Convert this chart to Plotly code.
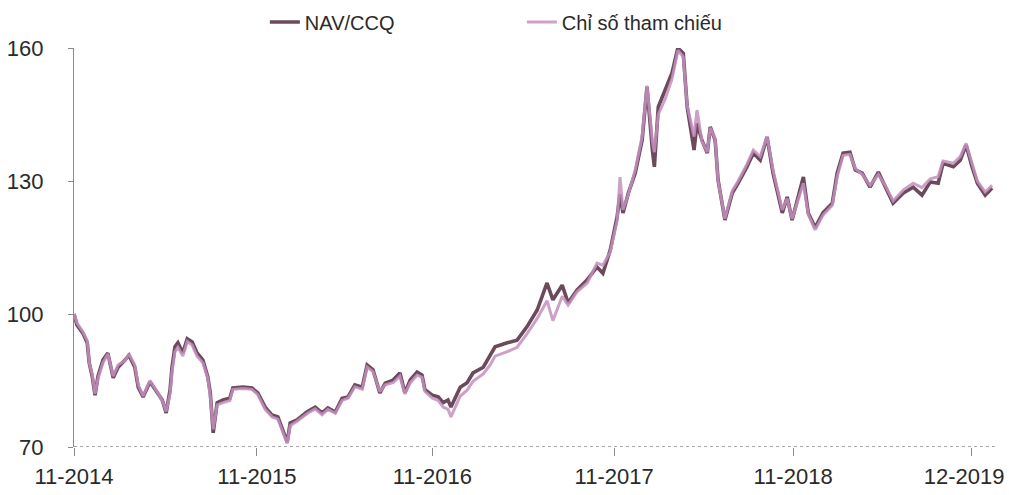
import plotly.graph_objects as go

dates = [
    "2014-11-01", "2014-11-07", "2014-11-19", "2014-11-28", "2014-12-02", "2014-12-08",
    "2014-12-14", "2014-12-20", "2014-12-30", "2015-01-09", "2015-01-20", "2015-01-30",
    "2015-02-13", "2015-02-21", "2015-03-05", "2015-03-12", "2015-03-22", "2015-04-05",
    "2015-04-19", "2015-04-30", "2015-05-08", "2015-05-16", "2015-05-20", "2015-05-26",
    "2015-06-01", "2015-06-11", "2015-06-20", "2015-06-30", "2015-07-10", "2015-07-22",
    "2015-08-01", "2015-08-06", "2015-08-12", "2015-08-20", "2015-09-01", "2015-09-15",
    "2015-09-21", "2015-10-12", "2015-10-30", "2015-11-11", "2015-11-26", "2015-12-10",
    "2015-12-22", "2016-01-01", "2016-01-10", "2016-01-16", "2016-01-30", "2016-02-19",
    "2016-03-07", "2016-03-21", "2016-04-02", "2016-04-17", "2016-05-01", "2016-05-13",
    "2016-05-27", "2016-06-11", "2016-06-21", "2016-07-03", "2016-07-17", "2016-07-28",
    "2016-08-13", "2016-08-27", "2016-09-06", "2016-09-17", "2016-10-01", "2016-10-11",
    "2016-10-17", "2016-11-01", "2016-11-13", "2016-11-23", "2016-12-03", "2016-12-09",
    "2016-12-28", "2017-01-11", "2017-01-23", "2017-02-13", "2017-02-27", "2017-03-09",
    "2017-04-03", "2017-04-23", "2017-05-13", "2017-06-03", "2017-06-23", "2017-07-05",
    "2017-07-24", "2017-08-05", "2017-08-23", "2017-09-13", "2017-10-03", "2017-10-15",
    "2017-10-30", "2017-11-13", "2017-11-19", "2017-11-25", "2017-12-06", "2017-12-20",
    "2018-01-03", "2018-01-13", "2018-01-24", "2018-01-28", "2018-02-05", "2018-02-19",
    "2018-03-05", "2018-03-17", "2018-03-28", "2018-04-05", "2018-04-15", "2018-04-19",
    "2018-04-25", "2018-05-05", "2018-05-16", "2018-05-22", "2018-06-01", "2018-06-07",
    "2018-06-21", "2018-07-06", "2018-07-18", "2018-08-05", "2018-08-18", "2018-09-01",
    "2018-09-15", "2018-09-27", "2018-10-16", "2018-10-26", "2018-11-05", "2018-11-15",
    "2018-11-28", "2018-12-08", "2018-12-22", "2019-01-07", "2019-01-26", "2019-02-05",
    "2019-02-17", "2019-03-03", "2019-03-14", "2019-03-28", "2019-04-13", "2019-04-30",
    "2019-05-14", "2019-05-30", "2019-06-20", "2019-07-10", "2019-07-28", "2019-08-14",
    "2019-08-30", "2019-09-09", "2019-09-30", "2019-10-14", "2019-10-26", "2019-11-07",
    "2019-11-18", "2019-12-04", "2019-12-18",
]

nav_ccq = [
    100, 97.5, 95.7, 93.5, 89, 86, 81.7, 86, 89.6, 91.2, 85.6, 88,
    89.6, 90.7, 88, 83.5, 81.3, 84.7, 82.4, 80.6, 77.7, 82.9, 88, 92.6,
    93.5, 91.2, 94.4, 93.7, 91.2, 89.6, 85.8, 82.2, 73.2, 80, 80.6, 81,
    83.3, 83.5, 83.3, 82.2, 79, 77.2, 76.8, 73.8, 71.1, 75.4, 76.1, 77.9,
    79, 77.7, 78.8, 77.9, 81, 81.3, 84, 83.5, 88.5, 87.4, 82.2, 84.4,
    85.1, 86.7, 82.2, 85.1, 86.9, 86.2, 82.9, 81.7, 81.3, 80, 80.6, 79,
    83.5, 84.5, 86.7, 88, 90.5, 92.6, 93.5, 94.1, 97.1, 100.9, 107, 103.2,
    106.5, 102.5, 105.4, 107.7, 110.6, 109.2, 114.4, 121.9, 127, 122.8, 127.3, 131.8,
    139.2, 151.2, 137, 133.2, 146.7, 150.5, 154.4, 160, 158.8, 146.7, 139.9, 137,
    143, 139.2, 136.3, 142.2, 139.2, 130.2, 121.2, 127.3, 129.5, 133.2, 136.3, 134.7,
    139.9, 131.8, 122.8, 126.4, 121.2, 125.7, 130.9, 122.8, 119.5, 122.8, 125, 131.8,
    136.3, 136.5, 132.5, 131.8, 128.6, 132, 128.6, 125, 127.3, 128.6, 126.8, 129.8,
    129.5, 134, 133.2, 134.7, 138.1, 133.2, 129.5, 126.8, 128.4,
]

chi_so_tham_chieu = [
    100, 98, 96, 94, 89, 86.5, 82, 85.5, 89, 91, 86, 88.5,
    89.5, 91, 88.5, 84, 81.5, 85, 82.5, 80.5, 78, 82, 87, 91.5,
    92.5, 90.5, 93.8, 93, 90.5, 89, 85.5, 81.5, 74, 79.5, 80, 80.5,
    83, 83.2, 83, 81.8, 78.5, 76.8, 76.3, 73.2, 70.8, 74.8, 75.8, 77.5,
    78.6, 77.3, 78.5, 77.6, 80.5, 81, 83.6, 83, 88, 87, 82.5, 84,
    84.5, 86, 82, 84.5, 86.2, 85.7, 82.5, 81, 80.5, 79, 78.5, 76.8,
    81.5, 82.8, 84.8, 86.5, 88.5, 90.5, 91.5, 92.5, 95.5, 99, 103, 98.5,
    104, 102, 105, 107, 111.5, 111, 114, 121, 130.9, 123.5, 127, 132.5,
    140, 151.5, 139, 136.5, 145, 148.5, 153, 159.5, 158, 147, 142, 140,
    146, 139, 136.5, 142, 139.5, 130, 121.5, 127.8, 130, 133.8, 137, 135.5,
    140, 132.5, 123.5, 126, 121.5, 125, 129.5, 122.5, 119, 122.3, 124.5, 131,
    135.8, 136, 132.8, 131.5, 129, 131.5, 129, 125.5, 128, 129.5, 128.5, 130.5,
    131, 134.5, 134, 135.5, 138.5, 134, 130, 127.5, 129,
]

tick_dates = ["2014-11-01", "2015-11-09", "2016-11-01", "2017-11-07", "2018-11-07", "2019-11-07"]
label_dates = ["2014-11-01", "2015-11-09", "2016-11-01", "2017-11-07", "2018-11-07", "2019-10-22"]
tick_labels = ["11-2014", "11-2015", "11-2016", "11-2017", "11-2018", "12-2019"]
y_ticks = [70, 100, 130, 160]
y_range = [70, 160]
x_range = ["2014-11-01", "2019-12-26"]

FONT = "Liberation Sans Narrow, Arial Narrow, Liberation Sans, Arial, sans-serif"

fig = go.Figure()
fig.add_trace(go.Scatter(
    x=dates, y=nav_ccq, mode="lines", name="NAV/CCQ",
    line=dict(color="#6b4a5c", width=3.6),
))
fig.add_trace(go.Scatter(
    x=dates, y=chi_so_tham_chieu, mode="lines", name="Chỉ số tham chiếu",
    line=dict(color="#c590be", width=3), opacity=0.85,
))

fig.add_shape(type="line", xref="paper", yref="y", x0=0, x1=1, y0=y_range[0], y1=y_range[0],
              line=dict(color="#8a8a8a", width=1.3, dash="dot"), layer="below")

fig.update_layout(
    width=1009, height=495,
    margin=dict(l=74, r=13, t=48, b=48, autoexpand=False),
    paper_bgcolor="white", plot_bgcolor="white",
    font=dict(family=FONT, color="#2a2a2a", size=22),
    showlegend=True,
    legend=dict(
        orientation="h", x=0.207, xanchor="left", y=1.065, yanchor="middle",
        font=dict(size=20, family=FONT), entrywidth=212, entrywidthmode="pixels",
        bgcolor="rgba(0,0,0,0)", tracegroupgap=0,
    ),
    xaxis=dict(
        type="date", range=x_range, showgrid=False, zeroline=False, showline=False,
        tickmode="array", tickvals=label_dates, ticktext=tick_labels, ticks="",
        tickfont=dict(size=22, family=FONT, color="#2a2a2a"),
        ticklabelstandoff=14, ticklabeloverflow="allow",
        minor=dict(tickmode="array", tickvals=tick_dates, ticks="outside",
                   ticklen=8, tickcolor="#8a8a8a", tickwidth=1, showgrid=False),
    ),
    yaxis=dict(
        range=y_range, showgrid=False, zeroline=False, showline=True,
        linecolor="#8a8a8a", linewidth=1.3,
        tickmode="array", tickvals=y_ticks,
        ticks="outside", ticklen=5, tickcolor="#8a8a8a",
        tickfont=dict(size=22, family=FONT, color="#2a2a2a"),
        ticklabelstandoff=20, ticklabeloverflow="allow",
    ),
)

fig.write_html(
    "out.html",
    config={"displayModeBar": False},
    post_script="document.body.style.margin='0px';document.body.style.overflow='hidden';",
)
